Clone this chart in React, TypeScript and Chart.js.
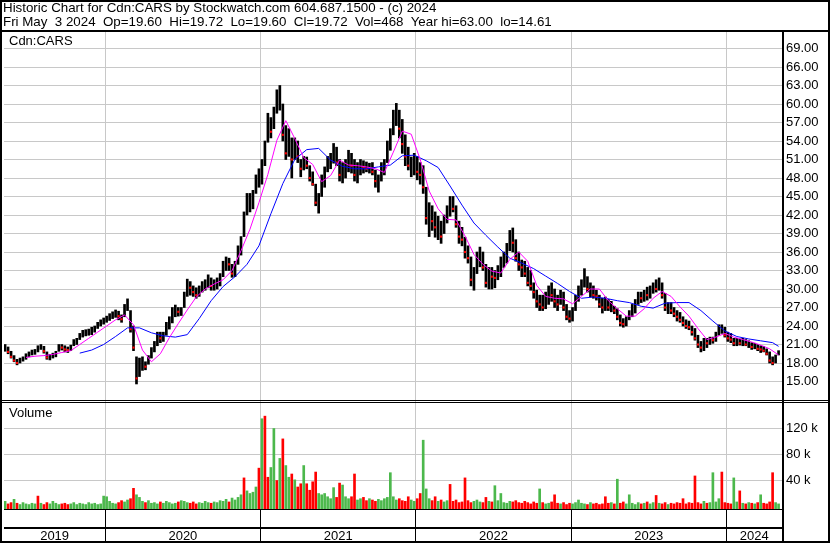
import React, { useEffect, useRef } from 'react';
import { Chart, registerables } from 'chart.js';
Chart.register(...registerables);

// ---- data (weekly samples, May 9 2019 .. May 3 2024) ----
const startYear = 2019.355;
const endYear = 2024.336;
const axisMinYear = 2019.348;
const axisMaxYear = 2024.358;

const lows = [
  19.9, 19.5, 18.8, 18.2, 17.7, 18.0, 18.3, 18.6, 19.0, 19.3,
  19.4, 19.8, 20.2, 19.6, 18.6, 18.5, 18.8, 19.0, 19.9, 20.1,
  19.8, 19.7, 20.0, 20.8, 21.0, 21.8, 22.2, 22.4, 22.5, 22.6,
  23.0, 23.6, 24.0, 24.3, 24.6, 24.9, 25.2, 25.4, 25.0, 24.6,
  25.5, 26.5, 23.0, 20.0, 14.6, 15.8, 16.8, 16.9, 17.8, 18.8,
  19.8, 20.8, 21.3, 21.5, 22.5, 23.5, 24.5, 25.5, 25.6, 25.7,
  27.0, 28.8, 29.0, 28.8, 28.5, 28.8, 29.5, 29.8, 30.2, 29.8,
  29.8, 30.0, 30.5, 32.0, 33.0, 33.0, 31.9, 32.0, 34.0, 35.5,
  38.5, 42.0, 42.5, 43.0, 45.5, 46.5, 47.0, 50.0, 53.8, 54.5,
  56.0, 58.5, 59.0, 54.0, 51.0, 51.5, 48.0, 51.0, 50.5, 48.2,
  49.3, 49.5, 47.5, 46.8, 43.5, 42.3, 45.0, 46.5, 49.0, 49.5,
  50.4, 50.0, 47.5, 47.2, 48.0, 49.0, 48.8, 47.5, 47.2, 48.5,
  48.8, 49.0, 48.8, 48.5, 46.5, 45.7, 47.5, 48.5, 50.5, 52.5,
  55.0, 56.5, 54.5, 52.0, 50.0, 49.3, 48.2, 48.5, 47.7, 47.0,
  45.5, 40.5, 38.5, 39.5, 38.4, 38.0, 37.4, 39.0, 40.7, 41.8,
  42.5, 40.0, 37.4, 37.0, 35.0, 34.2, 30.5, 29.8, 32.5, 33.6,
  33.0, 30.3, 30.0, 30.0, 30.2, 31.5, 32.0, 33.5, 34.2, 36.2,
  36.0, 34.5, 33.0, 32.0, 32.0, 30.5, 29.8, 28.5, 27.0, 26.5,
  26.5, 26.8, 27.5, 28.0, 27.0, 26.5, 27.5, 26.5, 25.0, 24.6,
  24.8, 26.5, 28.0, 29.0, 30.3, 29.5, 28.7, 28.5, 28.2, 27.0,
  26.1, 26.5, 26.5, 26.3, 26.0, 25.0, 24.0, 23.8, 24.0, 25.0,
  25.5, 26.1, 27.5, 27.8, 28.0, 28.2, 28.5, 29.3, 29.5, 29.8,
  28.5, 26.5, 26.0, 26.0, 25.5, 24.8, 24.6, 24.0, 23.6, 23.4,
  22.5, 21.7, 20.5, 19.8, 20.0, 20.5, 21.0, 21.2, 21.5, 22.5,
  22.8, 22.2, 21.5, 21.3, 20.8, 20.8, 20.9, 20.8, 20.8, 20.5,
  20.2, 20.3, 20.0, 19.7, 19.8, 19.3, 18.0, 17.7, 18.0, 19.3,
];

const highs = [
  21.0, 20.6, 19.9, 19.2, 18.6, 18.8, 19.0, 19.5, 19.8, 20.1,
  20.2, 20.8, 21.0, 20.7, 19.8, 19.4, 19.6, 19.9, 21.0, 21.0,
  20.8, 20.6, 20.9, 21.8, 22.0, 22.8, 23.3, 23.4, 23.5, 23.8,
  24.0, 24.6, 25.0, 25.3, 25.6, 26.0, 26.3, 26.6, 26.4, 25.8,
  27.5, 28.4, 26.5, 24.0, 19.0, 18.8, 19.0, 18.2, 19.2, 20.5,
  21.5, 23.0, 23.0, 23.0, 24.6, 25.5, 27.0, 27.4, 27.0, 27.0,
  29.5, 31.6, 31.2, 30.5, 30.2, 30.5, 31.2, 31.5, 32.3, 31.8,
  31.5, 31.8, 32.5, 34.5, 35.2, 35.0, 34.0, 34.5, 37.0, 38.5,
  42.5, 45.5, 45.5, 46.0, 48.5, 49.5, 51.0, 54.0, 58.5, 57.8,
  59.5, 62.3, 63.0, 60.0, 56.5, 56.0, 54.5, 54.5, 54.0, 51.0,
  51.5, 51.4, 50.0, 49.0, 47.0, 45.5, 48.5, 49.8, 51.5, 52.0,
  53.6, 53.0, 51.0, 50.5, 51.0, 52.5, 52.0, 51.0, 50.5, 51.0,
  50.8, 50.6, 50.4, 50.5, 49.3, 48.5, 50.5, 51.0, 54.0, 56.0,
  59.0, 60.1, 59.0, 57.5, 55.0, 53.0, 51.4, 52.0, 51.5, 50.5,
  50.0, 46.5, 44.0, 43.5, 42.5, 41.8, 41.0, 42.0, 43.5, 45.0,
  45.0, 43.5, 41.0, 40.0, 38.4, 37.0, 35.2, 33.5, 36.0, 36.8,
  36.0, 34.0, 33.5, 33.5, 33.0, 33.8, 35.2, 36.0, 37.4, 39.5,
  39.9, 38.0, 36.0, 34.7, 34.5, 33.5, 33.0, 31.0, 29.8, 29.0,
  29.0, 29.5, 30.5, 31.0, 30.0, 29.0, 29.8, 29.5, 27.5, 26.5,
  27.0, 29.0, 30.5, 31.5, 33.3, 32.0, 31.0, 30.5, 29.8, 29.0,
  28.5, 28.7, 28.3, 28.0, 27.2, 26.8, 25.8, 25.2, 25.5, 26.5,
  27.5, 28.3, 29.5, 29.5, 29.8, 30.3, 30.5, 31.0, 31.5, 31.8,
  31.0, 29.3, 27.8, 27.8, 27.0, 26.5, 26.2, 25.5, 25.0, 24.8,
  24.0, 23.6, 22.5, 21.5, 22.0, 22.0, 22.2, 22.2, 23.0, 24.2,
  24.2, 23.8, 23.0, 22.8, 22.0, 22.0, 21.9, 22.0, 21.8, 21.6,
  21.3, 21.2, 21.0, 20.8, 20.7, 20.3, 19.8, 19.0, 19.3, 20.0,
];

const closes = [
  20.3, 19.8, 19.0, 18.4, 18.0, 18.5, 18.6, 19.3, 19.5, 19.8,
  19.9, 20.5, 20.7, 19.9, 18.9, 19.0, 19.3, 19.6, 20.6, 20.5,
  20.2, 20.1, 20.4, 21.4, 21.7, 22.3, 22.8, 23.0, 23.0, 23.3,
  23.6, 24.2, 24.6, 24.9, 25.2, 25.5, 25.8, 26.1, 25.6, 25.1,
  27.0, 27.2, 23.5, 20.5, 15.5, 17.5, 17.8, 17.4, 18.8, 20.0,
  21.0, 22.2, 22.0, 22.4, 24.0, 25.0, 26.2, 26.5, 26.3, 26.5,
  29.0, 30.5, 30.2, 29.5, 29.0, 30.0, 30.6, 31.0, 31.5, 30.5,
  30.6, 31.2, 32.0, 33.8, 34.5, 34.0, 32.5, 34.0, 36.5, 38.0,
  41.5, 43.5, 44.5, 45.5, 47.5, 48.0, 50.5, 53.5, 57.0, 55.5,
  59.0, 60.5, 61.0, 55.0, 52.0, 54.5, 51.0, 53.0, 51.5, 49.5,
  50.8, 50.0, 48.0, 47.0, 44.0, 44.5, 47.5, 49.0, 50.5, 51.0,
  52.5, 50.5, 48.5, 49.5, 50.0, 51.5, 50.0, 48.5, 49.5, 50.0,
  49.8, 49.5, 49.8, 49.0, 47.5, 47.8, 49.5, 50.5, 53.0, 55.5,
  57.5, 58.5, 56.0, 53.5, 51.5, 50.0, 50.5, 51.0, 49.0, 48.5,
  46.5, 41.5, 42.5, 41.0, 40.0, 40.5, 38.5, 41.5, 42.5, 44.0,
  43.0, 40.5, 38.5, 38.0, 36.0, 35.0, 31.5, 32.5, 34.5, 35.5,
  33.5, 31.0, 32.5, 32.0, 31.8, 32.8, 34.5, 35.0, 36.5, 38.5,
  37.5, 35.0, 34.0, 33.5, 32.5, 31.0, 30.5, 29.5, 28.0, 27.5,
  27.0, 28.5, 29.5, 29.0, 28.0, 27.5, 28.5, 27.0, 25.5, 25.2,
  26.5, 28.5, 29.5, 31.0, 31.5, 30.0, 30.5, 29.0, 28.8, 27.5,
  27.0, 28.0, 27.0, 27.5, 26.5, 25.5, 24.5, 24.3, 25.0, 26.0,
  27.0, 27.8, 29.0, 28.5, 29.5, 29.0, 30.0, 30.5, 30.0, 31.2,
  29.0, 27.0, 27.2, 26.5, 26.0, 25.5, 25.0, 24.5, 24.0, 23.8,
  23.0, 22.0, 21.0, 20.5, 21.5, 21.2, 21.8, 21.7, 22.5, 23.5,
  23.5, 22.5, 22.0, 21.8, 21.2, 21.5, 21.2, 21.5, 21.0, 21.2,
  20.6, 20.8, 20.3, 20.2, 20.0, 19.5, 18.4, 18.0, 19.0, 19.72,
];

// volume, thousands of shares (tallest daily bar seen in each week)
const volumes = [
  8, 4, 6, 11, 5, 3, 6, 4, 3, 5,
  4, 16, 5, 3, 6, 4, 8, 5, 3, 4,
  5, 3, 4, 6, 3, 5, 4, 3, 6, 4,
  5, 3, 4, 16, 15, 8, 5, 4, 6, 9,
  7, 10, 12, 28, 18, 14, 8, 6, 9, 5,
  6, 4, 7, 5, 8, 6, 4, 5, 7, 9,
  8, 6, 5, 7, 4, 6, 5, 8, 6, 5,
  7, 6, 9, 8, 11, 7, 13, 10, 14, 18,
  44, 24, 20, 22, 30, 59, 135, 139, 45, 60,
  120, 40, 74, 104, 63, 45, 50, 41, 30, 35,
  63, 35, 25, 38, 53, 20, 18, 20, 15, 12,
  29, 14, 36, 33, 15, 12, 15, 50, 10, 12,
  14, 9, 12, 10, 8, 11, 9, 12, 14, 52,
  15, 10, 12, 9, 8, 15, 10, 8, 12, 20,
  102, 27, 12, 9, 15, 8, 10, 7, 9, 34,
  8, 10, 6, 7, 44, 9, 6, 8, 10, 7,
  6, 14, 8, 7, 32, 9, 20, 6, 5, 8,
  7, 9, 6, 5, 8, 6, 4, 7, 5, 27,
  6, 4, 5, 7, 18, 5, 4, 6, 3, 5,
  4, 6, 10, 5, 4, 3, 6, 4, 5, 3,
  4, 15, 5, 6, 4, 42, 5, 7, 4, 18,
  5, 3, 6, 4, 5, 7, 4, 6, 17, 5,
  4, 6, 3, 5, 4, 6, 5, 12, 4, 6,
  5, 47, 6, 4, 8, 5, 6, 52, 7, 12,
  53, 6, 5, 4, 44, 7, 24, 5, 4, 6,
  5, 4, 6, 18, 5, 4, 7, 52, 6, 4,
];

// weeks whose tallest volume bar is seen green (up) or red (down) in the picture
const volumeGreenWeeks = [3, 33, 34, 44, 76, 81, 86, 89, 90, 92, 94, 97, 100, 107, 110, 113, 129, 140, 141, 164, 166, 179, 205, 209, 237, 244, 253];
const volumeRedWeeks = [11, 43, 80, 85, 87, 88, 91, 93, 96, 99, 101, 103, 104, 112, 117, 139, 149, 154, 184, 201, 218, 231, 240, 246, 257];

// short moving average (magenta), read at these weekly samples
const maFastWeeks = [
  7, 10, 13, 16, 19, 22, 25, 28, 31, 34, 37, 40, 43, 46, 49, 52, 55, 58, 61, 64,
  67, 70, 73, 76, 79, 82, 85, 88, 91, 94, 97, 100, 103, 106, 109, 112, 115, 118, 121, 124,
  127, 130, 133, 136, 139, 142, 145, 148, 151, 154, 157, 160, 163, 166, 169, 172, 175, 178, 181, 184,
  187, 190, 193, 196, 199, 202, 205, 208, 211, 214, 217, 220, 223, 226, 229, 232, 235, 238, 241, 244,
  247, 250, 253, 256, 259,
];
const maFast = [
  18.9, 19.1, 19.2, 19.4, 19.7, 20.0, 21.0, 22.0, 23.0, 24.0,
  25.0, 25.8, 24.2, 20.1, 18.2, 19.5, 22.1, 24.4, 26.6, 28.7,
  30.0, 30.8, 31.5, 33.0, 36.2, 39.7, 44.0, 48.6, 54.1, 57.3,
  54.4, 51.3, 50.2, 47.4, 48.4, 50.9, 50.1, 50.0, 49.8, 49.5,
  48.9, 52.2, 55.6, 55.1, 51.0, 45.9, 43.0, 41.3, 41.2, 38.6,
  35.6, 34.0, 32.9, 32.6, 34.8, 36.0, 34.5, 30.6, 28.8, 28.5,
  28.4, 27.6, 28.8, 30.0, 30.0, 28.1, 26.8, 25.6, 25.6, 26.8,
  28.5, 29.6, 28.8, 27.1, 25.6, 23.6, 21.8, 22.2, 22.8, 22.2,
  21.8, 21.4, 20.9, 20.3, 19.3,
];

// long moving average (blue)
const maSlowWeeks = [
  25, 29, 33, 37, 41, 45, 49, 53, 57, 61, 65, 69, 73, 77, 81, 85, 89, 93, 97, 101,
  105, 109, 113, 117, 121, 125, 129, 133, 137, 141, 145, 149, 153, 157, 161, 165, 169, 173, 177, 181,
  185, 189, 193, 197, 201, 205, 209, 213, 217, 221, 225, 229, 233, 237, 241, 245, 249, 253, 257, 259,
];
const maSlow = [
  19.6, 20.1, 21.0, 22.3, 23.7, 23.7, 22.9, 22.4, 22.2, 22.6,
  25.2, 28.1, 30.4, 32.0, 34.0, 37.0, 42.2, 47.1, 51.0, 52.6,
  52.8, 50.9, 49.9, 49.5, 49.5, 49.8, 50.1, 51.6, 51.7, 50.8,
  49.7, 46.7, 43.6, 40.7, 38.7, 36.8, 35.0, 34.2, 33.3, 32.1,
  30.9, 29.6, 28.5, 28.7, 28.5, 28.1, 27.8, 27.2, 26.9, 27.7,
  27.8, 27.8, 26.5, 24.8, 23.2, 22.3, 21.9, 21.6, 21.3, 20.7,
];

const priceTicks = [15, 18, 21, 24, 27, 30, 33, 36, 39, 42, 45, 48, 51, 54, 57, 60, 63, 66, 69];
const volumeTicks = [40, 80, 120];
const yearStarts = [2020, 2021, 2022, 2023, 2024];
const yearLabels = ['2019', '2020', '2021', '2022', '2023', '2024'];

const titleLine1 = 'Historic Chart for Cdn:CARS by Stockwatch.com 604.687.1500 - (c) 2024';
const titleLine2 = 'Fri May  3 2024  Op=19.60  Hi=19.72  Lo=19.60  Cl=19.72  Vol=468  Year hi=63.00  lo=14.61';
const symbolLabel = 'Cdn:CARS';
const volumeLabel = 'Volume';

const FONT = '"Liberation Sans", Arial, Helvetica, sans-serif';
const GRID = '#C8C8C8';
const GREEN = '#4CB84C';
const RED = '#FF0000';

const W = 830;
const H = 543;

function sampleYear(i: number) {
  return startYear + (i * (endYear - startYear)) / (closes.length - 1);
}

const decorPlugin = {
  id: 'decor',
  afterDraw(chart: any) {
    const ctx = chart.ctx as CanvasRenderingContext2D;
    const xs = chart.scales.x;
    const area = chart.chartArea;
    ctx.save();
    ctx.fillStyle = '#000';
    // frame
    ctx.fillRect(0, 0, W, 2);
    ctx.fillRect(0, 0, 2, H);
    ctx.fillRect(W - 2, 0, 2, H);
    ctx.fillRect(0, H - 2, W, 2);
    // under title
    ctx.fillRect(0, 30, W, 2);
    // price / volume separator (double line)
    ctx.fillRect(0, 400, W, 1);
    ctx.fillRect(0, 402, W, 1);
    // right axis separator
    ctx.fillRect(Math.round(area.right), 30, 2, H - 30);
    // volume baseline and date row
    ctx.fillRect(area.left, 509, area.right - area.left, 1);
    ctx.fillRect(area.left, 527, area.right - area.left, 2);
    // year separators
    yearStarts.forEach((y) => {
      const px = Math.floor(xs.getPixelForValue(y));
      ctx.fillRect(px, 510, 1, H - 512);
    });
    // year labels
    ctx.font = '13px ' + FONT;
    ctx.textAlign = 'center';
    ctx.textBaseline = 'alphabetic';
    const bounds = [axisMinYear, ...yearStarts, axisMaxYear];
    yearLabels.forEach((lab, k) => {
      const a = xs.getPixelForValue(bounds[k]);
      const b = xs.getPixelForValue(bounds[k + 1]);
      ctx.fillText(lab, (a + b) / 2, 540);
    });
    ctx.restore();
  },
};

export default function App() {
  const ref = useRef<HTMLCanvasElement | null>(null);

  useEffect(() => {
    if (!ref.current) return;
    Chart.defaults.font.family = FONT;
    Chart.defaults.font.size = 13;
    Chart.defaults.color = '#000';

    const rangeData = closes.map((_, i) => ({ x: sampleYear(i), y: [lows[i], highs[i]] }));
    const downCloses = closes
      .map((c, i) => ({ x: sampleYear(i), y: c, down: i > 0 && c < closes[i - 1] }))
      .filter((p) => p.down)
      .map((p) => ({ x: p.x, y: p.y }));
    const volBase = -3.8;
    const volData = volumes.map((v, i) => ({ x: sampleYear(i), y: [volBase, v] }));
    const volColors = volumes.map((_, i) => {
      if (volumeGreenWeeks.includes(i)) return GREEN;
      if (volumeRedWeeks.includes(i)) return RED;
      return i === 0 || closes[i] >= closes[i - 1] ? GREEN : RED;
    });

    const chart = new Chart(ref.current, {
      type: 'bar',
      data: {
        datasets: [
          {
            type: 'line',
            label: 'MA short',
            data: maFastWeeks.map((w, k) => ({ x: sampleYear(w), y: maFast[k] })),
            borderColor: '#FF00FF',
            borderWidth: 1,
            pointRadius: 0,
            tension: 0,
            yAxisID: 'y',
          },
          {
            type: 'line',
            label: 'MA long',
            data: maSlowWeeks.map((w, k) => ({ x: sampleYear(w), y: maSlow[k] })),
            borderColor: '#0000FF',
            borderWidth: 1,
            pointRadius: 0,
            tension: 0,
            yAxisID: 'y',
          },
          {
            type: 'line',
            label: 'Close',
            data: downCloses,
            showLine: false,
            pointStyle: 'rect',
            pointRadius: 1.5,
            pointBackgroundColor: RED,
            pointBorderWidth: 0,
            yAxisID: 'y',
          },
          {
            type: 'bar',
            label: 'Range',
            data: rangeData as any,
            backgroundColor: '#000',
            borderWidth: 0,
            barThickness: 2,
            grouped: false,
            yAxisID: 'y',
          },
          {
            type: 'bar',
            label: 'Volume',
            data: volData as any,
            backgroundColor: volColors,
            borderWidth: 0,
            barThickness: 2,
            grouped: false,
            yAxisID: 'yv',
          },
        ] as any,
      },
      options: {
        responsive: false,
        animation: false,
        devicePixelRatio: 1,
        layout: { padding: { left: 2, top: 30, right: 0, bottom: 16 } },
        plugins: {
          legend: { display: false },
          tooltip: { enabled: false },
        },
        scales: {
          x: {
            type: 'linear',
            position: 'bottom',
            offset: false,
            min: axisMinYear,
            max: axisMaxYear,
            grid: { color: GRID, drawTicks: false, offset: false },
            border: { display: false },
            ticks: { display: false },
            afterBuildTicks: (s: any) => {
              s.ticks = yearStarts.map((v) => ({ value: v }));
            },
            afterFit: (s: any) => {
              s.height = 0;
            },
          },
          y: {
            type: 'linear',
            position: 'right',
            stack: 'panels',
            stackWeight: 372,
            weight: 0,
            min: 11.676,
            max: 72,
            grid: { color: GRID, drawTicks: false },
            border: { display: false },
            ticks: {
              padding: 4,
              autoSkip: false,
              color: '#000',
              font: { size: 13, family: FONT },
              callback: (v: any) => Number(v).toFixed(2),
            },
            afterBuildTicks: (s: any) => {
              s.ticks = priceTicks.map((v) => ({ value: v }));
            },
            afterFit: (s: any) => {
              s.width = 48;
            },
          },
          yv: {
            type: 'linear',
            position: 'right',
            stack: 'panels',
            stackWeight: 125,
            weight: 1,
            min: -31.54,
            max: 160.77,
            grid: { color: GRID, drawTicks: false },
            border: { display: false },
            ticks: {
              padding: 4,
              autoSkip: false,
              color: '#000',
              font: { size: 13, family: FONT },
              callback: (v: any) => `${v} k`,
            },
            afterBuildTicks: (s: any) => {
              s.ticks = volumeTicks.map((v) => ({ value: v }));
            },
            afterFit: (s: any) => {
              s.width = 48;
            },
          },
        } as any,
      },
      plugins: [decorPlugin],
    } as any);
    return () => chart.destroy();
  }, []);

  const textStyle: React.CSSProperties = {
    position: 'absolute',
    font: `13px ${FONT}`,
    lineHeight: '14px',
    whiteSpace: 'pre',
    color: '#000',
  };

  return (
    <div style={{ position: 'absolute', left: 0, top: 0, width: W, height: H, background: '#fff', overflow: 'hidden' }}>
      <canvas ref={ref} width={W} height={H} style={{ position: 'absolute', left: 0, top: 0, width: W, height: H }} />
      <div style={{ ...textStyle, fontSize: '13.33px', left: 3, top: 1 }}>
        {titleLine1}
        {'\n'}
        {titleLine2}
      </div>
      <div style={{ ...textStyle, left: 9, top: 34 }}>{symbolLabel}</div>
      <div style={{ ...textStyle, left: 9, top: 406 }}>{volumeLabel}</div>
    </div>
  );
}
